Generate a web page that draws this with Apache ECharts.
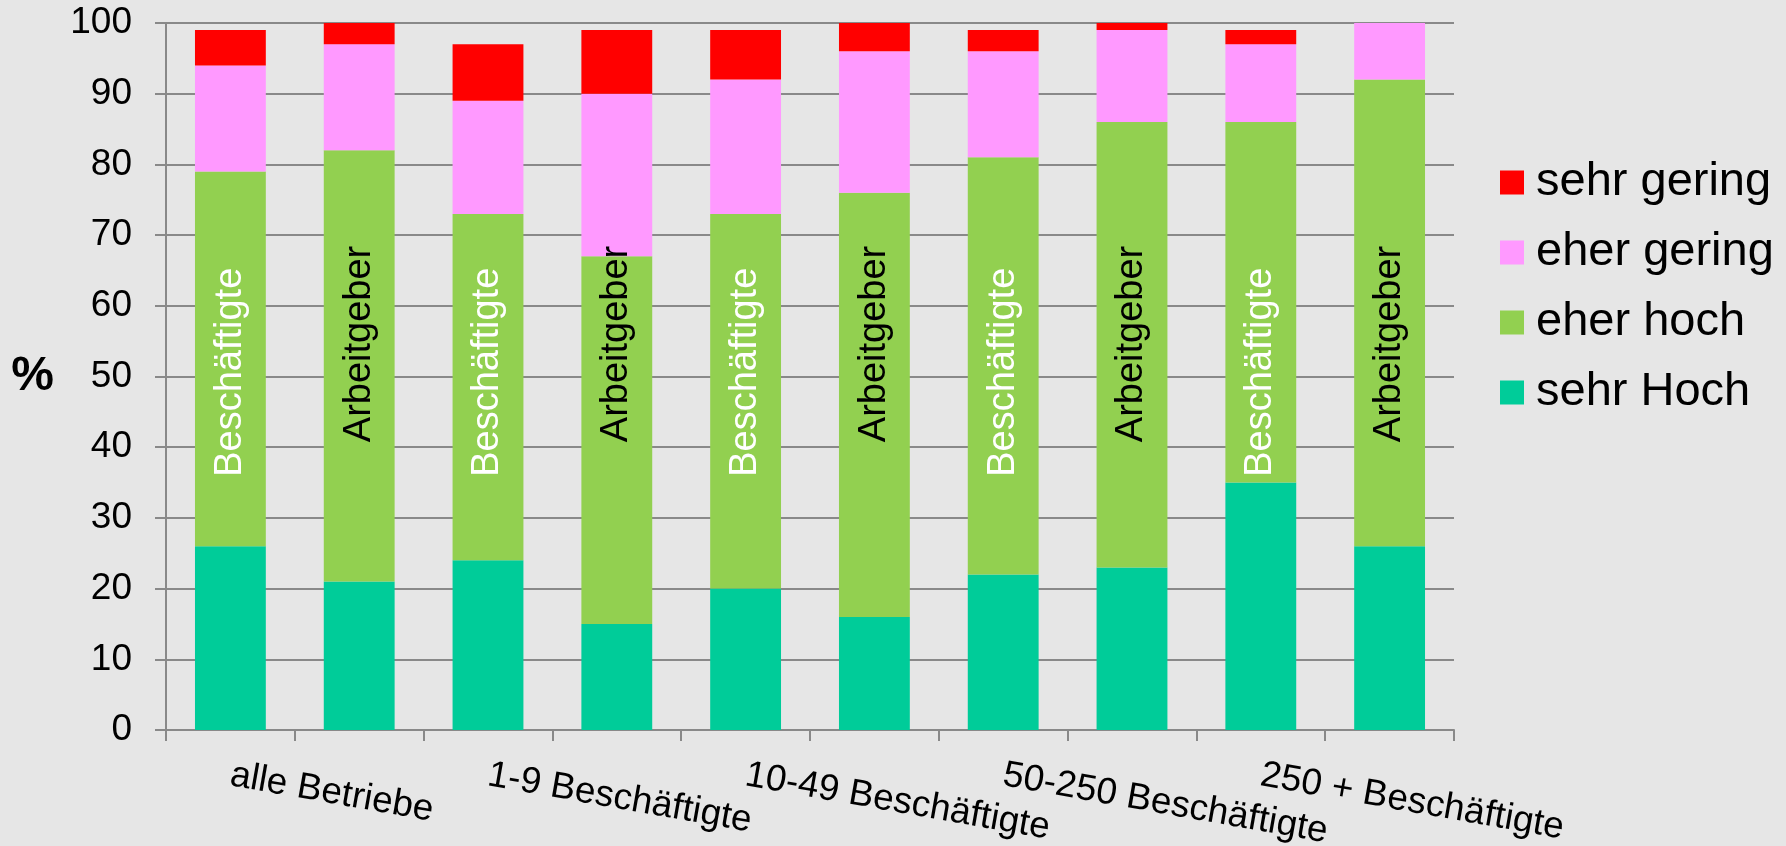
<!DOCTYPE html>
<html lang="de">
<head>
<meta charset="utf-8">
<title>Einschätzung nach Betriebsgröße</title>
<script src="https://cdn.jsdelivr.net/npm/echarts@6/dist/echarts.min.js"></script>
<style>
  html, body { margin: 0; padding: 0; background: #E6E6E6; }
  #chart { width: 1786px; height: 846px; }
</style>
</head>
<body>
<div id="chart"></div>
<script>
// Size classes of the establishments; each class has one bar for employees and one for employers
const groups = ['alle Betriebe', '1-9 Beschäftigte', '10-49 Beschäftigte', '50-250 Beschäftigte', '250 + Beschäftigte'];
const roles = ['Beschäftigte', 'Arbeitgeber'];

// Shares in percent, one value per bar (group × role, in that order)
const sehrHoch   = [26, 21, 24, 15, 20, 16, 22, 23, 35, 26];
const eherHoch   = [53, 61, 49, 52, 53, 60, 59, 63, 51, 66];
const eherGering = [15, 15, 16, 23, 19, 20, 15, 13, 11, 8];
const sehrGering = [5, 3, 8, 9, 7, 4, 3, 1, 2, 0];

const seriesNames = ['sehr Hoch', 'eher hoch', 'eher gering', 'sehr gering'];
const seriesValues = [sehrHoch, eherHoch, eherGering, sehrGering];
const legendOrder = ['sehr gering', 'eher gering', 'eher hoch', 'sehr Hoch'];

const yMin = 0, yMax = 100, yStep = 10;

// ---- styling ----
const FONT = '"Liberation Sans", Arial, Helvetica, sans-serif';
const colors = ['#00CC99', '#92D050', '#FF99FF', '#FF0000'];
const axisGray = '#898989';
// where the role name sits along the value axis, and its colour
const roleLabelAt = { 'Beschäftigte': 50.6, 'Arbeitgeber': 54.6 };
const roleLabelColor = { 'Beschäftigte': '#FFFFFF', 'Arbeitgeber': '#000000' };

// one category per bar: "group|role"
const categories = groups.flatMap(g => roles.map(r => g + '|' + r));

const barSeries = seriesNames.map((name, k) => ({
  name: name,
  type: 'bar',
  stack: 'anteil',
  barWidth: '55%',
  data: seriesValues[k],
  itemStyle: { color: colors[k] },
  emphasis: { disabled: true }
}));

// role names written vertically inside each bar
const roleSeries = {
  type: 'custom',
  name: 'Rolle',
  silent: true,
  z: 5,
  data: categories.map((c, i) => [i, i % roles.length]),
  renderItem: function (params, api) {
    const i = api.value(0);
    const role = roles[api.value(1)];
    const p = api.coord([i, roleLabelAt[role]]);
    return {
      type: 'text',
      x: p[0],
      y: p[1],
      rotation: Math.PI / 2,
      style: {
        text: role,
        fill: roleLabelColor[role],
        fontSize: 38,
        fontFamily: FONT,
        align: 'center',
        verticalAlign: 'middle'
      }
    };
  }
};

const chart = echarts.init(document.getElementById('chart'), null, { renderer: 'canvas' });
chart.setOption({
  animation: false,
  backgroundColor: '#E6E6E6',
  textStyle: { fontFamily: FONT, color: '#000' },
  grid: { left: 166, right: 332, top: 23, bottom: 116, containLabel: false, outerBoundsMode: 'none' },
  legend: {
    orient: 'vertical',
    left: 1495,
    top: 154,
    icon: 'rect',
    itemWidth: 24,
    itemHeight: 24,
    itemGap: 23,
    selectedMode: false,
    data: legendOrder,
    textStyle: { fontSize: 47, lineHeight: 46, color: '#000', fontFamily: FONT, padding: [0, 0, 0, 7] }
  },
  xAxis: {
    type: 'category',
    data: categories,
    axisLine: { show: true, lineStyle: { color: axisGray, width: 2 } },
    axisTick: { show: true, interval: 0, length: 11, alignWithLabel: false, lineStyle: { color: axisGray, width: 2 } },
    axisLabel: {
      interval: 0,
      rotate: -10,
      margin: 45,
      fontSize: 37,
      color: '#000',
      fontFamily: FONT,
      formatter: (v, i) => (i % roles.length === 0 ? v.split('|')[0] : '')
    },
    splitLine: { show: false }
  },
  yAxis: {
    type: 'value',
    min: yMin,
    max: yMax,
    interval: yStep,
    name: '%',
    nameLocation: 'middle',
    nameRotate: 0,
    nameGap: 112,
    nameTextStyle: { fontSize: 48, fontWeight: 'bold', color: '#000', fontFamily: FONT },
    axisLine: { show: true, lineStyle: { color: axisGray, width: 2 } },
    axisTick: { show: true, length: 11, lineStyle: { color: axisGray, width: 2 } },
    axisLabel: { margin: 34, fontSize: 37, color: '#000', fontFamily: FONT },
    splitLine: { show: true, lineStyle: { color: axisGray, width: 2 } }
  },
  series: barSeries.concat([roleSeries])
});
</script>
</body>
</html>
